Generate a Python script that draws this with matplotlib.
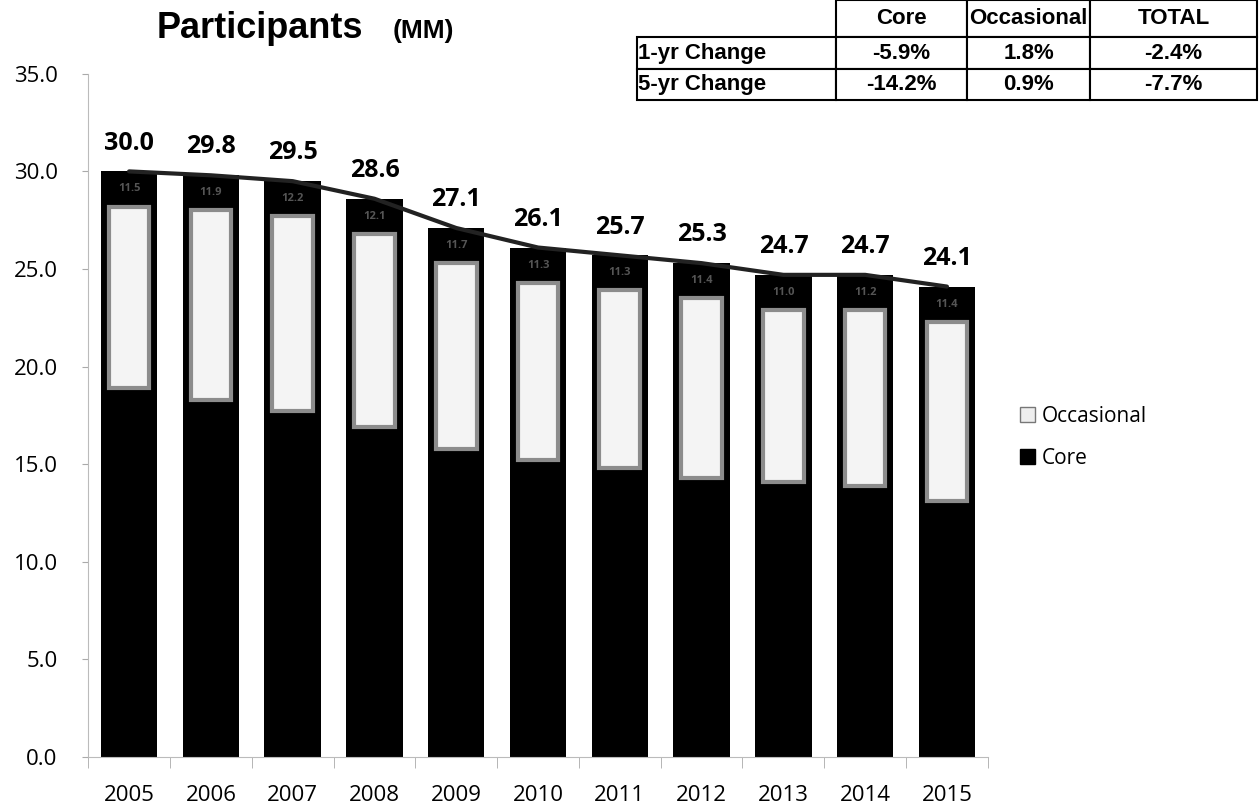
import matplotlib
matplotlib.use("Agg")
import matplotlib.pyplot as plt
from matplotlib.patches import Patch
import numpy as np

# data (millions of participants)
years = ["2005", "2006", "2007", "2008", "2009", "2010", "2011", "2012", "2013", "2014", "2015"]
totals = [30.0, 29.8, 29.5, 28.6, 27.1, 26.1, 25.7, 25.3, 24.7, 24.7, 24.1]
core = [18.5, 17.9, 17.3, 16.5, 15.4, 14.8, 14.4, 13.9, 13.7, 13.5, 12.7]
occasional = [round(t - c, 1) for t, c in zip(totals, core)]

table_cols = ["Core", "Occasional", "TOTAL"]
table_rows = ["1-yr Change", "5-yr Change"]
table_vals = [["-5.9%", "1.8%", "-2.4%"],
              ["-14.2%", "0.9%", "-7.7%"]]

plt.rcParams["font.family"] = ["Open Sans", "DejaVu Sans"]

fig = plt.figure(figsize=(12.6, 8.11), dpi=100)
ax = fig.add_axes([0.070, 0.0666, 0.714, 0.8424])

x = np.arange(len(years))
w = 0.69

# core + occasional stacked, occasional drawn black with a light inner panel
ax.bar(x, core, width=w, color="black", zorder=2)
ax.bar(x, occasional, width=w, bottom=core, color="black", zorder=2)
inner_bottom = [c + 0.4 for c in core]
inner_h = [o - 2.2 for o in occasional]
ax.bar(x, inner_h, width=w * 0.72, bottom=inner_bottom, color="#f4f4f4",
       edgecolor="#8c8c8c", linewidth=3, zorder=3)

# small occasional labels in the dark band
for i in range(len(x)):
    ax.text(x[i], totals[i] - 0.9, f"{occasional[i]:.1f}", ha="center", va="center",
            fontsize=8, color="#555555", fontweight="bold", zorder=4)

# total line over bar tops
ax.plot(x, totals, color="#222222", linewidth=3, zorder=5, solid_capstyle="round")

# total labels
for i in range(len(x)):
    ax.text(x[i], totals[i] + 1.45, f"{totals[i]:.1f}", ha="center", va="center",
            fontsize=18, fontweight="bold", color="black", zorder=6)

ax.set_xlim(-0.5, len(years) - 0.5)
ax.set_ylim(0, 35)
ax.set_yticks(np.arange(0, 35.1, 5))
ax.set_yticklabels([f"{v:.1f}" for v in np.arange(0, 35.1, 5)], fontsize=16)
ax.set_xticks(x)
ax.set_xticklabels(years, fontsize=16)
ax.set_xticks(np.arange(-0.5, len(years), 1), minor=True)
ax.tick_params(axis="x", which="major", length=0, pad=20)
ax.tick_params(axis="x", which="minor", length=8, color="#aaaaaa", direction="out")
ax.tick_params(axis="y", length=4, color="#aaaaaa", pad=18)
for s in ["top", "right"]:
    ax.spines[s].set_visible(False)
ax.spines["left"].set_color("#bbbbbb")
ax.spines["left"].set_linestyle((0, (1, 1)))
ax.spines["bottom"].set_color("#bbbbbb")

# legend
handles = [Patch(facecolor="#eeeeee", edgecolor="#777777", label="Occasional"),
           Patch(facecolor="black", edgecolor="black", label="Core")]
fig.legend(handles=handles, loc="center left", bbox_to_anchor=(0.795, 0.461),
           frameon=False, fontsize=15, handlelength=0.7, handleheight=0.7,
           handletextpad=0.3, labelspacing=1.0)

# title
fig.text(0.124, 0.953, "Participants", fontsize=26, fontweight="bold",
         family=["Liberation Sans", "DejaVu Sans"], va="baseline", ha="left")
fig.text(0.312, 0.953, "(MM)", fontsize=19, fontweight="bold",
         family=["Liberation Sans", "DejaVu Sans"], va="baseline", ha="left")

# change table top right
tax = fig.add_axes([0.5056, 0.8767, 0.492, 0.1233])
tax.axis("off")
cell_text = [[""] + table_cols] + [[r] + v for r, v in zip(table_rows, table_vals)]
tbl = tax.table(cellText=cell_text, bbox=[0, 0, 1, 1], cellLoc="center",
                colWidths=[199, 131, 123, 167])
tbl.auto_set_font_size(False)
for (r, c), cell in tbl.get_celld().items():
    cell.set_linewidth(1.5)
    cell.set_edgecolor("black")
    cell.get_text().set_fontsize(16)
    cell.get_text().set_fontweight("bold")
    cell.get_text().set_family(["Liberation Sans", "DejaVu Sans"])
    if c == 0 and r > 0:
        cell.get_text().set_ha("left")
        cell._loc = "left"
        cell.PAD = 0.005
    if r == 0 and c == 0:
        cell.visible_edges = ""
    if r == 0:
        cell.set_height(37)
    else:
        cell.set_height(31)

fig.savefig("out.png", dpi=100, facecolor="white")
